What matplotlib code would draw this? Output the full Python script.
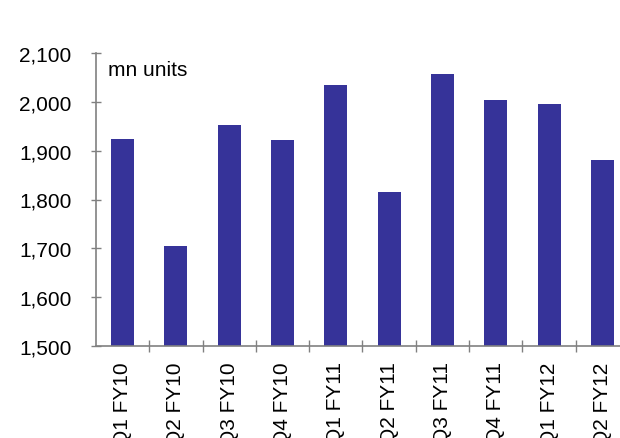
import matplotlib
matplotlib.use("Agg")
import matplotlib.pyplot as plt
from matplotlib.ticker import FixedLocator, FuncFormatter
import numpy as np

quarters = ["Q1 FY10", "Q2 FY10", "Q3 FY10", "Q4 FY10", "Q1 FY11",
            "Q2 FY11", "Q3 FY11", "Q4 FY11", "Q1 FY12", "Q2 FY12"]
volumes = [1924, 1705, 1953, 1922, 2034, 1815, 2057, 2004, 1996, 1881]
y_ticks = [1500, 1600, 1700, 1800, 1900, 2000, 2100]
unit_label = "mn units"

plt.rcParams["font.family"] = ["Liberation Sans", "DejaVu Sans"]

fig = plt.figure(figsize=(6.2, 4.39), dpi=100)
# 軸は右端が図の外まで伸びる
ax = fig.add_axes([96 / 620, 92 / 439, 533 / 620, 293 / 439])

x = np.arange(len(quarters))
ax.bar(x, volumes, width=0.43, color="#363399", zorder=2)

ax.set_xlim(-0.5, len(quarters) - 0.5)
ax.set_ylim(y_ticks[0], y_ticks[-1])
ax.set_yticks(y_ticks)
ax.yaxis.set_major_formatter(FuncFormatter(lambda v, _: f"{v:,.0f}"))

ax.set_xticks(x)
ax.set_xticklabels(quarters, rotation=90, fontsize=15)
ax.tick_params(axis="x", which="major", length=0, pad=11)
ax.xaxis.set_minor_locator(FixedLocator(np.arange(0.5, len(quarters) - 0.5, 1)))
ax.tick_params(axis="x", which="minor", direction="inout", length=8,
               color="#808080", width=1)
ax.tick_params(axis="y", direction="inout", length=7, color="#808080",
               width=1, labelsize=15, pad=14)

for side in ("top", "right"):
    ax.spines[side].set_visible(False)
for side in ("left", "bottom"):
    ax.spines[side].set_color("#808080")
    ax.spines[side].set_linewidth(1.2)

ax.text(0.023, 0.942, unit_label, transform=ax.transAxes, fontsize=15,
        ha="left", va="center")

fig.savefig("out.png", dpi=100)
